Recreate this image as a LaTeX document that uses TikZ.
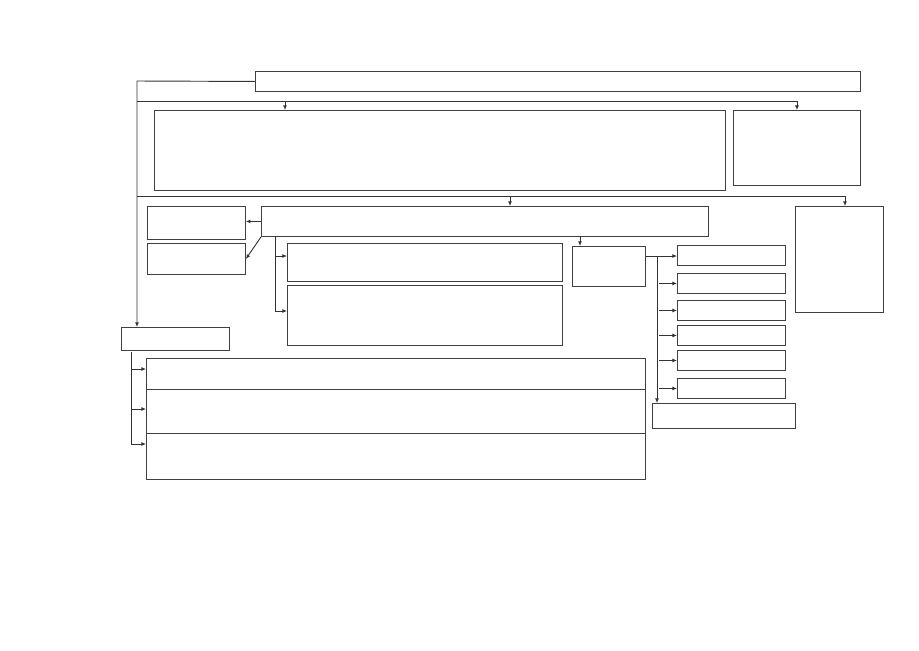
\documentclass[tikz,border=0pt]{standalone}
\usetikzlibrary{arrows.meta}

\begin{document}
\begin{tikzpicture}[x=0.0265cm, y=-0.0265cm,
  box/.style 2 args={rectangle, draw=black!75, line width=0.7pt, anchor=north west,
    inner sep=0pt, minimum width=#1*0.0265cm, minimum height=#2*0.0265cm},
  arr/.style={draw=black!80, line width=0.7pt, -{Latex[length=3.4pt,width=3pt]}}]
\useasboundingbox (0,0) rectangle (919,650);

% boxes
\node[box={605}{20}] (top) at (255,71) {};
\node[box={571}{80}] (big) at (154,110) {};
\node[box={127}{75}] (rup) at (733,110) {};
\node[box={98}{33}] (la) at (147,206) {};
\node[box={98}{31}] (lb) at (147,243) {};
\node[box={447}{30}] (wide) at (261,206) {};
\node[box={88}{106}] (rtall) at (795,206) {};
\node[box={275}{38}] (c) at (287,243) {};
\node[box={275}{60}] (d) at (287,285) {};
\node[box={73}{40}] (e) at (572,246) {};
\foreach \n/\y in {1/245,2/273,3/300,4/325,5/350,6/378}
  \node[box={108}{20}] (r\n) at (677,\y) {};
\node[box={143}{25}] (br) at (652,403) {};
\node[box={108}{23}] (f) at (121,327) {};
\node[box={499}{31}] (s1) at (146,358) {};
\node[box={499}{44}] (s2) at (146,389) {};
\node[box={499}{46}] (s3) at (146,433) {};

% branch points
\coordinate (lft) at (137,81);
\coordinate (bus1) at (137,101);
\coordinate (b1) at (285,101);
\coordinate (bus2) at (137,196);
\coordinate (b2) at (510,196);
\coordinate (b2e) at (845,196);
\coordinate (sp) at (275,236);
\coordinate (sc) at (275,256);
\coordinate (sd) at (275,311);
\coordinate (we) at (580,236);
\coordinate (eo) at (645,256);
\coordinate (rv) at (657,256);
\coordinate (fv) at (131,352);
\coordinate (fa1) at (131,369);
\coordinate (fa2) at (131,409);
\coordinate (fa3) at (131,444);

% connectors
\draw[arr] (top.west) -- (lft) -- (lft |- f.north);
\draw[arr] (bus1) -| (rup.north);
\draw[arr] (b1) -- (b1 |- big.north);
\draw[arr] (bus2) -- (b2e) -- (b2e |- rtall.north);
\draw[arr] (b2) -- (b2 |- wide.north);
\draw[arr] (wide.west) -- (wide.west -| la.east);
\draw[arr] (wide.south west) -- (lb.east);
\draw[arr] (sp) |- (sd -| d.west);
\draw[arr] (sc) -- (sc -| c.west);
\draw[arr] (we) -- (we |- e.north);
\draw[arr] (eo) -- (eo -| r1.west);
\draw[arr] (rv) -- (rv |- br.north);
\foreach \n in {2,...,6}
  \draw[arr, shorten <=1.5pt] (rv |- r\n.west) -- (r\n.west);
\draw[arr] (fv) |- (fa3 -| s3.west);
\draw[arr] (fa1) -- (fa1 -| s1.west);
\draw[arr] (fa2) -- (fa2 -| s2.west);

\end{tikzpicture}
\end{document}
